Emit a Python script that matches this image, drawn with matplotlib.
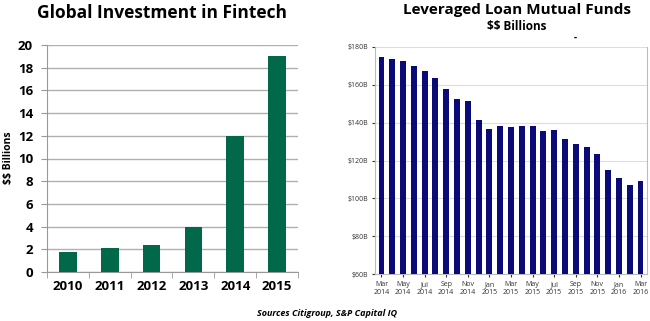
import matplotlib
matplotlib.use("Agg")
import matplotlib.pyplot as plt

# Fintech investment by year, $ billions
fintech_years = ["2010", "2011", "2012", "2013", "2014", "2015"]
fintech_values = [1.8, 2.1, 2.4, 4.0, 12.0, 19.0]

# Leveraged loan mutual fund assets, monthly Mar 2014 - Mar 2016, $ billions
loan_values = [174.9, 173.8, 172.5, 170.0, 167.5, 163.5, 158.0, 152.5, 151.2,
               141.4, 136.8, 138.3, 137.6, 138.3, 138.4, 135.4, 135.9, 131.4,
               128.8, 127.4, 123.5, 115.0, 110.9, 107.2, 109.1]
loan_tick_labels = ["Mar\n2014", "May\n2014", "Jul\n2014", "Sep\n2014", "Nov\n2014",
                    "Jan\n2015", "Mar\n2015", "May\n2015", "Jul\n2015", "Sep\n2015",
                    "Nov\n2015", "Jan\n2016", "Mar\n2016"]
loan_yticks = [60, 80, 100, 120, 140, 160, 180]

plt.rcParams["font.family"] = ["Open Sans", "DejaVu Sans"]
plt.rcParams["text.parse_math"] = False

fig = plt.figure(figsize=(6.5, 3.21), dpi=100)

# ---- left: fintech investment ----
ax1 = fig.add_axes([47 / 650, 1 - 272 / 321, 251 / 650, 227 / 321])
x1 = range(len(fintech_years))
ax1.bar(x1, fintech_values, width=0.42, color="#02684A", zorder=3)
ax1.set_ylim(0, 20)
ax1.set_xlim(-0.5, len(fintech_years) - 0.5)
ax1.set_yticks(range(0, 21, 2))
ax1.set_xticks(list(x1))
ax1.set_xticklabels(fintech_years)
ax1.tick_params(axis="both", labelsize=9.5, length=0, pad=6)
for lab in ax1.get_xticklabels() + ax1.get_yticklabels():
    lab.set_fontweight("bold")
ax1.set_xticks([i - 0.5 for i in range(len(fintech_years) + 1)], minor=True)
ax1.tick_params(axis="x", which="minor", length=4, color="#999999", direction="out")
ax1.tick_params(axis="y", length=4, color="#999999", direction="out")
ax1.grid(axis="y", color="#b0b0b0", linewidth=1, zorder=0)
for side in ["top", "right"]:
    ax1.spines[side].set_visible(False)
for side in ["left", "bottom"]:
    ax1.spines[side].set_color("#999999")
fig.text(9 / 650, 1 - 158 / 321, "$$ Billions", rotation=90, ha="center", va="center",
         fontsize=7.5, fontweight="bold")
fig.text(162 / 650, 1 - 13 / 321, "Global Investment in Fintech", ha="center", va="center",
         fontsize=12.5, fontweight="bold")

# ---- right: leveraged loan mutual funds ----
ax2 = fig.add_axes([375 / 650, 1 - 274 / 321, 272 / 650, 227 / 321])
x2 = range(len(loan_values))
ax2.bar(x2, loan_values, width=0.55, color="#0A0A78", zorder=3)
ax2.set_ylim(60, 180)
ax2.set_xlim(-0.6, len(loan_values) - 0.4)
ax2.set_yticks(loan_yticks)
ax2.set_yticklabels([f"${v}B" for v in loan_yticks])
ax2.set_xticks(list(x2)[::2])
ax2.set_xticklabels(loan_tick_labels)
ax2.tick_params(axis="both", labelsize=5, colors="#333333", length=2, pad=3)
ax2.grid(axis="y", color="#dddddd", linewidth=0.8, zorder=0)
for side in ["top", "right", "left", "bottom"]:
    ax2.spines[side].set_color("#bbbbbb")
ax2.spines["top"].set_visible(False)
fig.text(517 / 650, 1 - 10 / 321, "Leveraged Loan Mutual Funds", ha="center", va="center",
         fontsize=11, fontweight="bold")
fig.text(517 / 650, 1 - 26 / 321, "$$ Billions", ha="center", va="center",
         fontsize=8.5, fontweight="bold")
fig.text(575 / 650, 1 - 37 / 321, "-", ha="center", va="center", fontsize=7, fontweight="bold")

fig.text(327 / 650, 1 - 313 / 321, "Sources Citigroup, S&P Capital IQ", ha="center",
         va="center", fontsize=6.5, fontweight="bold", style="italic")

fig.savefig("out.png", dpi=100)
